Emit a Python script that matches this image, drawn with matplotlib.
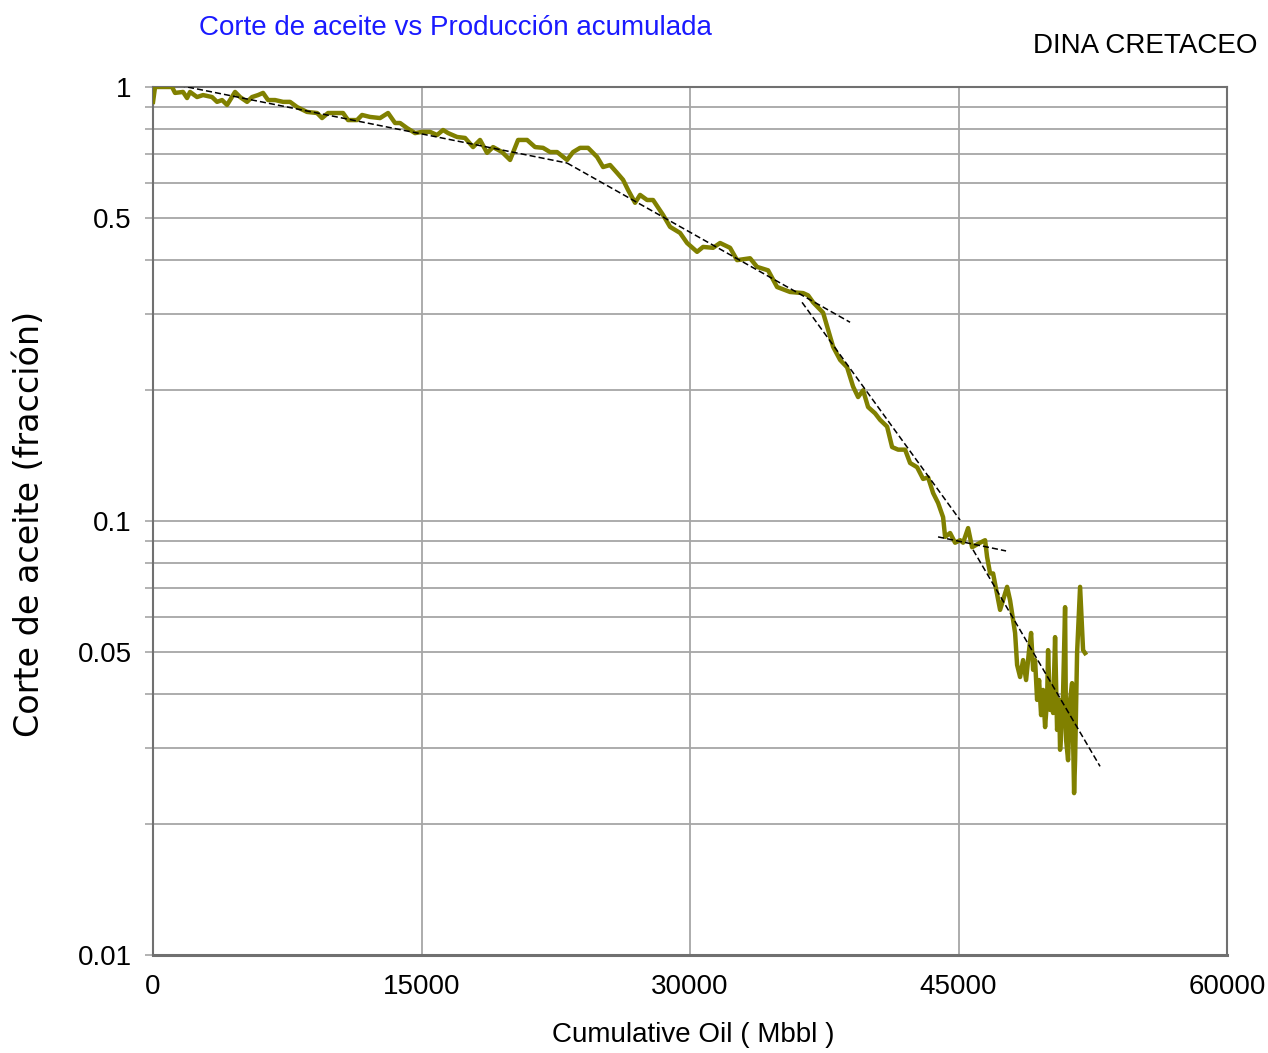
#!/usr/bin/env python3

import numpy as np
import matplotlib
matplotlib.use("Agg")
import matplotlib.pyplot as plt
from matplotlib.ticker import FixedLocator, NullFormatter

# Cumulative oil (Mbbl) and oil cut (fraction)
cum_oil = [
    0, 112, 1061, 1229, 1676, 1900, 2067, 2458, 2793, 3296,
    3576, 3855, 4134, 4581, 4861, 5252, 5531, 5866, 6146, 6425,
    6816, 7263, 7654, 8045, 8604, 9162, 9442, 9777, 10280, 10615,
    10894, 11397, 11676, 12123, 12682, 13129, 13520, 13800, 14191, 14638,
    15029, 15476, 15867, 16202, 16482, 16984, 17431, 17878, 18269, 18660,
    18996, 19499, 19946, 20393, 20895, 21342, 21789, 22180, 22571, 23130,
    23465, 23856, 24303, 24806, 25141, 25532, 25923, 26259, 26538, 26929,
    27208, 27600, 27935, 28494, 28885, 29443, 29834, 30393, 30728, 31286,
    31677, 32236, 32627, 33353, 33744, 34360, 34863, 35589, 36316, 36595,
    36874, 37433, 37992, 38383, 38774, 39109, 39388, 39668, 39947, 40338,
    40617, 41008, 41288, 41623, 42014, 42293, 42684, 43020, 43299, 43579,
    43858, 44137, 44249, 44528, 44808, 45087, 45255, 45534, 45757, 46204,
    46483, 46595, 46763, 46930, 47321, 47712, 47880,
    48159, 48271, 48438, 48606, 48774, 48941, 49053, 49165, 49276, 49388,
    49500, 49612, 49723, 49835, 49947, 50002, 50114, 50226, 50281, 50393,
    50505, 50617, 50672, 50784, 50840, 50952, 51008, 51119, 51231, 51343,
    51399, 51455, 51511, 51622, 51790, 51957, 52069,
]
oil_cut = [
    0.924, 1.0, 1.0, 0.969, 0.974, 0.943, 0.974, 0.948, 0.958, 0.948,
    0.924, 0.933, 0.909, 0.974, 0.948, 0.924, 0.948, 0.958, 0.969, 0.933,
    0.933, 0.924, 0.924, 0.899, 0.876, 0.871, 0.848, 0.871, 0.871, 0.871,
    0.839, 0.839, 0.862, 0.853, 0.848, 0.871, 0.826, 0.826, 0.804, 0.783,
    0.788, 0.788, 0.775, 0.796, 0.783, 0.767, 0.763, 0.727, 0.755, 0.705,
    0.727, 0.708, 0.679, 0.755, 0.755, 0.727, 0.724, 0.708, 0.708, 0.679,
    0.708, 0.724, 0.724, 0.690, 0.654, 0.661, 0.634, 0.611, 0.579, 0.541,
    0.564, 0.549, 0.549, 0.507, 0.476, 0.461, 0.437, 0.417, 0.428, 0.426,
    0.437, 0.426, 0.399, 0.403, 0.385, 0.378, 0.346, 0.337, 0.335, 0.331,
    0.319, 0.302, 0.252, 0.235, 0.226, 0.204, 0.193, 0.200, 0.183, 0.177,
    0.171, 0.165, 0.148, 0.146, 0.146, 0.136, 0.133, 0.125, 0.126, 0.116,
    0.110, 0.102, 0.0919, 0.0938, 0.0891, 0.0903, 0.0891, 0.0963, 0.0870, 0.0891,
    0.0903, 0.0826, 0.0757, 0.0757, 0.0624, 0.0705, 0.0656,
    0.0552, 0.0466, 0.0437, 0.0478, 0.0430, 0.0504, 0.0552, 0.0454, 0.0478, 0.0387,
    0.0430, 0.0357, 0.0408, 0.0335, 0.0387, 0.0504, 0.0367, 0.0408, 0.0361, 0.0540,
    0.0330, 0.0387, 0.0297, 0.0348, 0.0402, 0.0633, 0.0313, 0.0281, 0.0387, 0.0423,
    0.0313, 0.0236, 0.0281, 0.0496, 0.0705, 0.0504, 0.0496,
]

# Hand-drawn trend segments (start/end in data units)
trend_x = [(-56, 23128), (23128, 38939), (36257, 45084), (43855, 47654), (45810, 52905)]
trend_y = [(1.038, 0.668), (0.668, 0.287), (0.319, 0.1005), (0.0919, 0.0853), (0.0858, 0.0272)]

x_ticks = [0, 15000, 30000, 45000, 60000]
y_labels = {1: "1", 0.5: "0.5", 0.1: "0.1", 0.05: "0.05", 0.01: "0.01"}

grid_col = "#a6a6a6"
line_col = "#808000"
font, fs = "Liberation Sans", 20

fig = plt.figure(figsize=(12.68, 10.53), dpi=100)
ax = fig.add_axes([0.1207, 0.0931, 0.847, 0.8243])

ax.set_yscale("log")
ax.set_xlim(0, 60000)
ax.set_ylim(0.01, 1)

# y gridlines at every decade step
y_grid = [k * 10.0 ** e for e in (-2, -1) for k in range(1, 10)] + [1.0]
ax.yaxis.set_major_locator(FixedLocator(y_grid))
ax.yaxis.set_minor_locator(FixedLocator([]))
ax.yaxis.set_minor_formatter(NullFormatter())
ax.set_yticklabels([y_labels.get(round(v, 4), "") for v in y_grid])
ax.set_xticks(x_ticks)
ax.set_xticklabels([str(v) for v in x_ticks])

ax.grid(True, which="major", color=grid_col, linewidth=1.3)
ax.set_axisbelow(True)

ax.plot(cum_oil, oil_cut, color=line_col, linewidth=3.2, zorder=3)
for xs, ys in zip(trend_x, trend_y):
    ax.plot(xs, ys, color="black", linewidth=1.1, dashes=(4, 2), zorder=4)

for s in ax.spines.values():
    s.set_color("#707070")
    s.set_linewidth(1.5)
ax.spines["bottom"].set_linewidth(2.2)

ax.tick_params(axis="y", length=5.5, width=1.2, color=grid_col, pad=10,
               labelsize=fs, labelfontfamily=font)
ax.tick_params(axis="x", length=0, pad=14, labelsize=fs, labelfontfamily=font)

ax.set_xlabel("Cumulative Oil ( Mbbl )", fontsize=fs, family=font, va="center")
ax.xaxis.set_label_coords(0.5027, -0.0925)
ax.set_ylabel("Corte de aceite (fracción)", fontsize=24, family="DejaVu Sans", va="center")
ax.yaxis.set_label_coords(-0.1155, 0.4965)

fig.text(0.359, 0.973, "Corte de aceite vs Producción acumulada", color="#1a1aff",
         fontsize=fs, family=font, ha="center", va="center")
fig.text(0.903, 0.956, "DINA CRETACEO", color="black",
         fontsize=fs, family=font, ha="center", va="center")

fig.savefig("out.png", dpi=100)
